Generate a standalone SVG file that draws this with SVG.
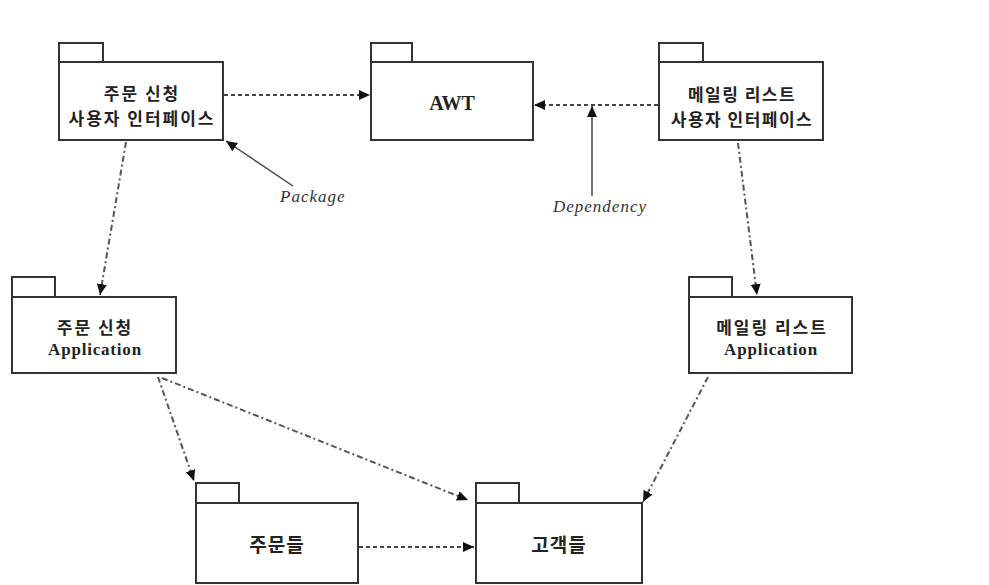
<svg xmlns="http://www.w3.org/2000/svg" width="989" height="585" viewBox="0 0 989 585">
<style>
.box{fill:#fff;stroke:#333;stroke-width:2}
.ko{font-family:"Noto Sans CJK KR","Noto Sans",sans-serif;font-weight:bold;font-size:17px;fill:#222;text-anchor:middle;letter-spacing:2px}
.ko19{font-family:"Noto Sans CJK KR","Noto Sans",sans-serif;font-weight:bold;font-size:19px;fill:#222;text-anchor:middle;letter-spacing:1px}
.en{font-family:"Liberation Serif","DejaVu Serif",serif;font-weight:bold;fill:#222;text-anchor:middle}
.lbl{font-family:"Liberation Serif","DejaVu Serif",serif;font-style:italic;font-size:17px;fill:#333;letter-spacing:1px}
.dash{fill:none;stroke:#444;stroke-width:2;stroke-dasharray:4,3}
.dd{fill:none;stroke:#555;stroke-width:2;stroke-dasharray:6,3,2,3}
.solid{fill:none;stroke:#444;stroke-width:1.5}
</style>
<defs>
<marker id="ah" markerUnits="userSpaceOnUse" markerWidth="12" markerHeight="10" refX="11" refY="5" orient="auto">
<path d="M0,0 L11,5 L0,10 z" fill="#111"/>
</marker>
</defs>
<rect width="989" height="585" fill="#fff"/>
<g id="n1">
<rect class="box" x="59" y="43" width="44" height="19"/>
<rect class="box" x="59" y="62" width="164" height="78"/>
<text class="ko" x="142" y="100">주문 신청</text>
<text class="ko" x="142" y="125">사용자 인터페이스</text>
</g>
<g id="n2">
<rect class="box" x="371" y="43" width="41" height="19"/>
<rect class="box" x="371" y="62" width="162" height="78"/>
<text class="en" x="452" y="110" font-size="20">AWT</text>
</g>
<g id="n3">
<rect class="box" x="659" y="43" width="44" height="19"/>
<rect class="box" x="659" y="62" width="164" height="78"/>
<text class="ko" x="742" y="101" style="letter-spacing:1.5px">메일링 리스트</text>
<text class="ko" x="742" y="126" style="letter-spacing:1.5px">사용자 인터페이스</text>
</g>
<g id="n4">
<rect class="box" x="12" y="277" width="43" height="20"/>
<rect class="box" x="12" y="297" width="164" height="76"/>
<text class="ko" x="95" y="334">주문 신청</text>
<text class="en" x="95" y="355" font-size="17" letter-spacing="0.8">Application</text>
</g>
<g id="n5">
<rect class="box" x="689" y="277" width="43" height="20"/>
<rect class="box" x="689" y="297" width="163" height="76"/>
<text class="ko" x="772" y="334">메일링 리스트</text>
<text class="en" x="771" y="355" font-size="17" letter-spacing="0.8">Application</text>
</g>
<g id="n6">
<rect class="box" x="196" y="483" width="43" height="20"/>
<rect class="box" x="196" y="503" width="162" height="80"/>
<text class="ko19" x="277" y="552">주문들</text>
</g>
<g id="n7">
<rect class="box" x="476" y="483" width="43" height="20"/>
<rect class="box" x="476" y="503" width="166" height="80"/>
<text class="ko19" x="559" y="552">고객들</text>
</g>
<g id="labels">
<text class="lbl" x="280" y="202">Package</text>
<text class="lbl" x="553" y="212">Dependency</text>
</g>
<g id="connectors">
<line class="dash" x1="224" y1="95" x2="370" y2="95" marker-end="url(#ah)"/>
<line class="dash" x1="658" y1="105" x2="534" y2="105" marker-end="url(#ah)"/>
<line class="solid" x1="592" y1="196" x2="592" y2="106" marker-end="url(#ah)"/>
<line class="solid" x1="293" y1="186" x2="226" y2="141" marker-end="url(#ah)"/>
<line class="dd" x1="126" y1="142" x2="100" y2="295" marker-end="url(#ah)"/>
<line class="dd" x1="738" y1="143" x2="757" y2="295" marker-end="url(#ah)"/>
<line class="dd" x1="158" y1="377" x2="194" y2="481" marker-end="url(#ah)"/>
<line class="dd" x1="162" y1="378" x2="468" y2="500" marker-end="url(#ah)"/>
<line class="dd" x1="708" y1="377" x2="643" y2="502" marker-end="url(#ah)"/>
<line class="dash" x1="359" y1="547" x2="474" y2="547" marker-end="url(#ah)"/>
</g>
</svg>
